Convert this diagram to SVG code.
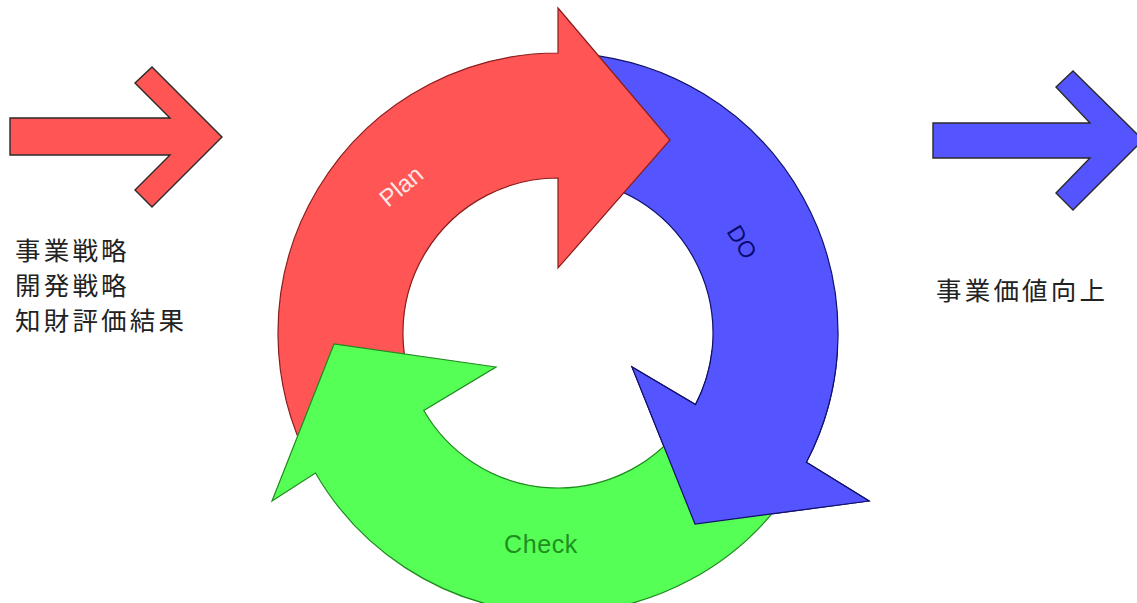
<svg xmlns="http://www.w3.org/2000/svg" xmlns:xlink="http://www.w3.org/1999/xlink" width="1137" height="603" viewBox="0 0 1137 603">
  <style>
    .side { stroke: #2a2a2a; stroke-width: 1.4; stroke-linejoin: miter; }
    .red { fill: #ff5555; stroke: #8a1c1c; stroke-width: 1.2; stroke-linejoin: miter; }
    .blue { fill: #5555ff; stroke: #10106a; stroke-width: 1.2; stroke-linejoin: miter; }
    .green { fill: #55ff55; stroke: #1f8a1f; stroke-width: 1.2; stroke-linejoin: miter; }
    .jp { font-family: "Noto Sans CJK JP", "Noto Sans", sans-serif; font-size: 25.5px; fill: #222; letter-spacing: 3.2px; }
    .lbl { font-family: "Liberation Sans", Arial, sans-serif; text-anchor: middle; dominant-baseline: central; }
  </style>
  <defs>
    <!-- region around the DO head, where it must sit above the Check tail -->
    <clipPath id="doHeadClip">
      <rect x="600" y="350" width="300" height="200"/>
    </clipPath>
  </defs>

  <rect width="1137" height="603" fill="#ffffff"/>

  <!-- input arrow and its text -->
  <g id="input">
    <path class="side" fill="#ff5555" d="M10,118 L170,118 L135,83 L152,67 L222,137 L152,207 L135,190 L170,155 L10,155 Z"/>
    <text class="jp" x="15" y="260">事業戦略</text>
    <text class="jp" x="15" y="295">開発戦略</text>
    <text class="jp" x="15" y="330">知財評価結果</text>
  </g>

  <!-- output arrow and its text -->
  <g id="output">
    <path class="side" fill="#5555ff" d="M933,123 L1090,123 L1056,87 L1073,71 L1143,140 L1073,210 L1056,193 L1090,158 L933,158 Z"/>
    <text class="jp" x="936" y="300">事業価値向上</text>
  </g>

  <!-- cycle: centre (558,333), inner radius 155, outer radius 280 -->
  <g id="connectors">
    <g id="do">
      <path id="doShape" class="blue" d="M582.4,54.1 A280,280 0 0 1 806.4,462.3 L869,501 L695,524 L632,367 L695.5,404.6 A155,155 0 0 0 571.5,178.6 Z"/>
    </g>
    <g id="plan">
      <path class="red" d="M421.1,405.8 L310.8,464.5 A280,280 0 0 1 558,53 L558,8 L670,140 L558,268 L558,178 A155,155 0 0 0 421.1,405.8 Z"/>
    </g>
    <g id="check">
      <path class="green" d="M787.4,493.6 A280,280 0 0 1 315.5,473 L272,501 L334,344 L496,367 L423.8,410.5 A155,155 0 0 0 685,421.9 Z"/>
    </g>
    <!-- DO head drawn again over the Check tail -->
    <use xlink:href="#doShape" clip-path="url(#doHeadClip)"/>
  </g>

  <!-- stage labels -->
  <g id="labels">
    <text class="lbl" x="401" y="186" font-size="24" fill="#ffe6e6" transform="rotate(-40 401 186)">Plan</text>
    <text class="lbl" x="742" y="242" font-size="23" fill="#0a0a70" transform="rotate(58 742 242)">DO</text>
    <text class="lbl" x="541" y="544" font-size="25" fill="#1f8f1f" letter-spacing="0.6">Check</text>
  </g>
</svg>
